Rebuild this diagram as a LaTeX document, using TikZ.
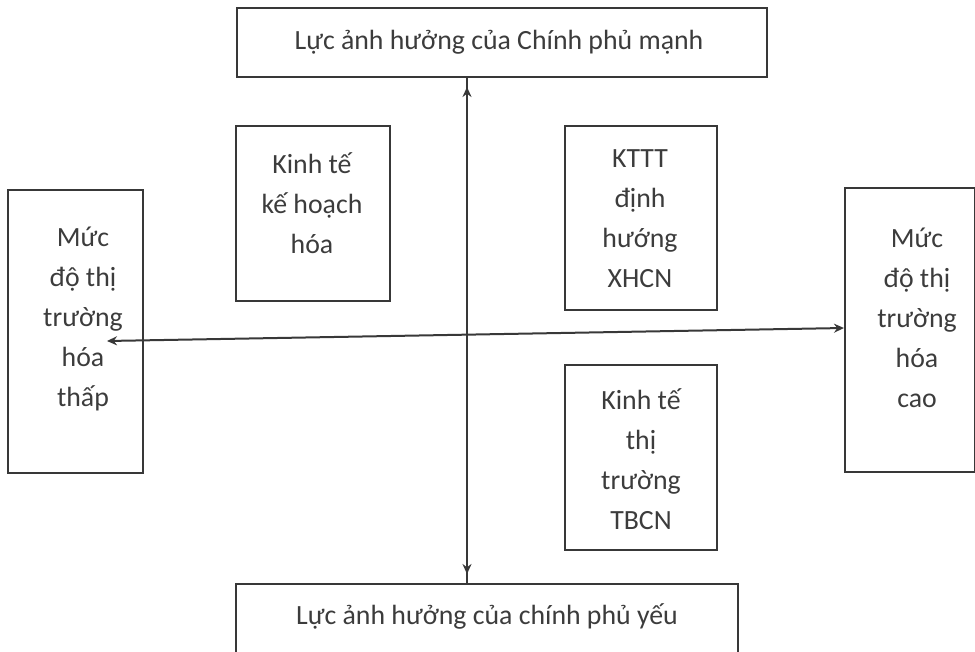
\documentclass[tikz,border=0pt]{standalone}
\usepackage{fontspec}
\setmainfont{Carlito}
\usetikzlibrary{arrows.meta,decorations.markings,calc}
\definecolor{ln}{HTML}{383838}
\definecolor{tx}{HTML}{3C3C3C}
\begin{document}
\begin{tikzpicture}[x=1pt,y=-1pt,
  box/.style={draw=ln,line width=2pt,inner sep=0pt},
  txt/.style={text=tx,font=\fontsize{27.8}{40}\selectfont,align=center,inner sep=0pt},
  conn/.style={draw=ln,line width=2pt}]
\useasboundingbox (0,0) rectangle (975,651);
% boxes
\node[box,minimum width=530pt,minimum height=69pt] (top) at (502,42.5) {};
\node[box,minimum width=502pt,minimum height=69pt] (bot) at (487,618.5) {};
\node[box,minimum width=135pt,minimum height=283pt] (L) at (75.5,331.5) {};
\node[box,minimum width=130pt,minimum height=284pt] (R) at (910,330) {};
\node[box,minimum width=154pt,minimum height=175pt] (KH) at (313,213.5) {};
\node[box,minimum width=152pt,minimum height=184pt] (XH) at (641,218) {};
\node[box,minimum width=152pt,minimum height=185pt] (TB) at (641,457.5) {};
% texts
\node[txt] (ttop) at (499,42) {Lực ảnh hưởng của Chính phủ mạnh};
\node[txt] (tbot) at (487,616) {Lực ảnh hưởng của chính phủ yếu};
\node[txt] (tL) at (83,319) {Mức\\độ thị\\trường\\hóa\\thấp};
\node[txt] (tR) at (917,318) {Mức\\độ thị\\trường\\hóa\\cao};
\node[txt] (tKH) at (312,203) {Kinh tế\\kế hoạch\\hóa};
\node[txt] (tXH) at (640,219) {KTTT\\định\\hướng\\XHCN};
\node[txt] (tTB) at (641,459) {Kinh tế\\thị\\trường\\TBCN};
% axes
\coordinate (vx) at (467,331);
\coordinate (hl) at (107,341);
\draw[conn,postaction={decorate},decoration={markings,
  mark=at position 9pt with {\arrowreversed[ln]{Stealth[length=10pt,width=9pt]}},
  mark=at position -9pt with {\arrow[ln]{Stealth[length=10pt,width=9pt]}}}]
  (top.south -| vx) -- (bot.north -| vx);
\draw[conn,{Stealth[length=10pt,width=9pt]}-{Stealth[length=10pt,width=9pt]}] (hl) -- ($(R.west)+(0,-2)$);
\end{tikzpicture}
\end{document}
